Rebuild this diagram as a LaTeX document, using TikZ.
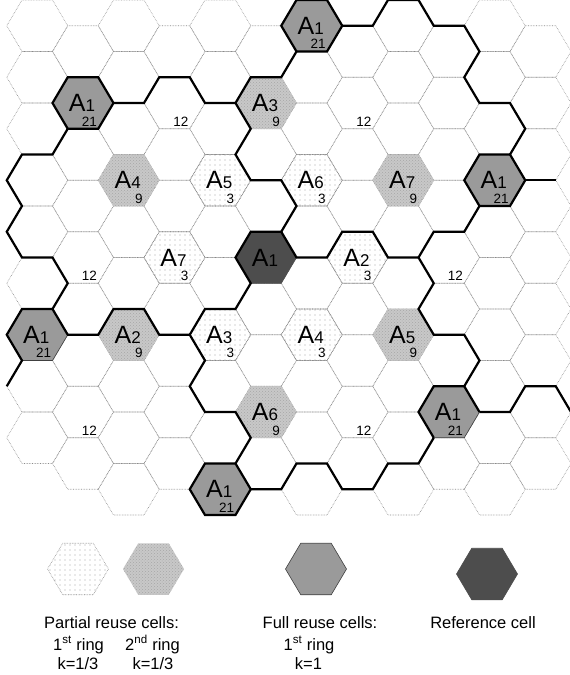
\documentclass[tikz,border=0pt]{standalone}
\usepackage{fontspec}
\setmainfont{Liberation Sans}
\usetikzlibrary{patterns}
\definecolor{gridgray}{HTML}{8A8A8A}
\definecolor{fullgray}{HTML}{9A9A9A}
\definecolor{refgray}{HTML}{4D4D4D}
\definecolor{ringgray}{HTML}{C8C8C8}
\definecolor{dotgray}{HTML}{A8A8A8}

\pgfdeclarepatternformonly{sparsedots}{\pgfqpoint{-1pt}{-1pt}}{\pgfqpoint{1pt}{1pt}}{\pgfqpoint{5pt}{5pt}}%
  {\pgfpathcircle{\pgfqpoint{0pt}{0pt}}{0.65pt}\pgfusepath{fill}}

% flat-topped hexagon around lattice point (#1,#2)
\newcommand{\hexpath}[2]{(#1+2,#2) -- (#1+1,#2+1) -- (#1-1,#2+1) -- (#1-2,#2) -- (#1-1,#2-1) -- (#1+1,#2-1) -- cycle}
\newcommand{\An}[1]{A{\fontsize{17}{17}\selectfont #1}}

\tikzset{
  gridline/.style={draw=gridgray, densely dotted, line width=0.6pt},
  fullcell/.style={fill=fullgray, draw=black!75, line width=0.6pt},
  refcell/.style={fill=refgray, draw=refgray, line width=0.6pt},
  ringone/.style={pattern=sparsedots, pattern color=dotgray, draw=gridgray, densely dotted, line width=0.6pt},
  ringtwo/.style={fill=ringgray, postaction={pattern=crosshatch dots, pattern color=black!35}},
  border/.style={line width=2.2pt},
  cellname/.style={font=\fontsize{25}{25}\selectfont, inner sep=0pt, xshift=-1pt},
  cellnum/.style={font=\fontsize{13.5}{14}\selectfont, inner sep=0pt, anchor=east, xshift=14pt, yshift=-18.5pt},
  legendtext/.style={font=\fontsize{16.5}{19}\selectfont, inner sep=0pt, anchor=base}
}

\begin{document}
\begin{tikzpicture}[x=1pt, y=-1pt]
  \fill[white] (0,0) rectangle (570,675);
  \useasboundingbox (0,0) rectangle (570,675);

  \begin{scope}[shift={(266,0)}, x=15.25pt, y=-25.75pt]
    % plain grid
    \foreach \X in {-9,-3,3,9,15}
      \foreach \Y in {1,3,...,19}
        \draw[gridline] \hexpath{\X}{\Y};
    \foreach \Y in {1,3,...,17}
      \draw[gridline] \hexpath{-15}{\Y};
    \foreach \X in {-12,-6,0,6,12,18}
      \foreach \Y in {2,4,...,18}
        \draw[gridline] \hexpath{\X}{\Y};

    % coloured cells
    \foreach \X/\Y in {-3/7, 3/7, -6/10, 6/10, -3/13, 3/13}
      \path[ringone] \hexpath{\X}{\Y};
    \foreach \X/\Y in {0/4, -9/7, 9/7, -9/13, 9/13, 0/16}
      \path[ringtwo] \hexpath{\X}{\Y};
    \foreach \X/\Y in {3/1, -12/4, 15/7, -15/13, 12/16, -3/19}
      \path[fullcell] \hexpath{\X}{\Y};
    \path[refcell] \hexpath{0}{10};

    % cluster borders
    \draw[border] (-17,15) -- (-16,14) -- (-17,13) -- (-16,12) -- (-14,12) -- (-13,11) -- (-14,10) -- (-16,10)
      -- (-17,9) -- (-16,8) -- (-17,7) -- (-16,6) -- (-14,6) -- (-13,5);
    \draw[border] \hexpath{-12}{4};
    \draw[border] (-10,4) -- (-8,4) -- (-7,3) -- (-5,3) -- (-4,4) -- (-2,4) -- (-1,3) -- (1,3) -- (2,2);
    \draw[border] \hexpath{3}{1};
    \draw[border] (5,1) -- (7,1) -- (8,0) -- (10,0) -- (11,1) -- (13,1) -- (14,2) -- (13,3) -- (14,4) -- (16,4)
      -- (17,5) -- (16,6);
    \draw[border] \hexpath{15}{7};
    \draw[border] (17,7) -- (19,7);
    \draw[border] (14,8) -- (13,9) -- (11,9) -- (10,10) -- (8,10) -- (7,9) -- (5,9) -- (4,10) -- (2,10) -- (1,9);
    \draw[border] (10,10) -- (11,11) -- (10,12) -- (11,13) -- (13,13) -- (14,14) -- (13,15);
    \draw[border] (14,16) -- (13,15) -- (11,15) -- (10,16) -- (11,17);
    \draw[border] (14,16) -- (16,16) -- (17,15) -- (19,15) -- (20,16);
    \draw[border] (11,17) -- (10,18) -- (8,18) -- (7,19) -- (5,19) -- (4,18) -- (2,18) -- (1,19) -- (-1,19);
    \draw[border] \hexpath{-3}{19};
    \draw[border] (-2,18) -- (-1,17) -- (-2,16) -- (-4,16) -- (-5,15) -- (-4,14) -- (-5,13) -- (-4,12) -- (-2,12)
      -- (-1,11) -- (-2,10) -- (-1,9) -- (1,9) -- (2,8) -- (1,7) -- (-1,7) -- (-2,6) -- (-1,5) -- (-2,4);
    \draw[border] (-5,13) -- (-7,13) -- (-8,12) -- (-10,12) -- (-11,13) -- (-13,13) -- (-14,12);

    % labels
    \node[cellname] (ref) at (0,10) {\An{1}};
    \foreach \X/\Y [count=\i] in {3/1, -12/4, 15/7, -15/13, 12/16, -3/19}{
      \node[cellname] (full\i) at (\X,\Y) {\An{1}};
      \node[cellnum] (fullk\i) at (\X,\Y) {21};
    }
    \foreach \X/\Y/\a [count=\i] in {-3/7/5, 3/7/6, -6/10/7, 6/10/2, -3/13/3, 3/13/4}{
      \node[cellname] (one\i) at (\X,\Y) {\An{\a}};
      \node[cellnum] (onek\i) at (\X,\Y) {3};
    }
    \foreach \X/\Y/\a [count=\i] in {0/4/3, -9/7/4, 9/7/7, -9/13/2, 9/13/5, 0/16/6}{
      \node[cellname] (two\i) at (\X,\Y) {\An{\a}};
      \node[cellnum] (twok\i) at (\X,\Y) {9};
    }
    \foreach \X/\Y [count=\i] in {-6/4, 6/4, -12/10, 12/10, -12/16, 6/16}
      \node[cellnum] (free\i) at (\X,\Y) {12};
  \end{scope}

  % legend
  \foreach \lx/\ly/\sty in {78/569/ringone, 153.5/569/ringtwo, 316/569/fullcell, 487/574/refcell}
    \path[\sty, shift={(\lx,\ly)}, x=15.25pt, y=-25.75pt] \hexpath{0}{0};

  \node[legendtext] (partial) at (111.5,628) {Partial reuse cells:};
  \node[legendtext] (ring1) at (78.5,650) {1\textsuperscript{st} ring};
  \node[legendtext] (ring2) at (152.5,650) {2\textsuperscript{nd} ring};
  \node[legendtext] (k1) at (78,669) {k=1/3};
  \node[legendtext] (k2) at (153,669) {k=1/3};
  \node[legendtext] (full) at (320,628) {Full reuse cells:};
  \node[legendtext] (ring3) at (309,650) {1\textsuperscript{st} ring};
  \node[legendtext] (k3) at (308.5,669) {k=1};
  \node[legendtext] (refname) at (483,628) {Reference cell};
\end{tikzpicture}
\end{document}
